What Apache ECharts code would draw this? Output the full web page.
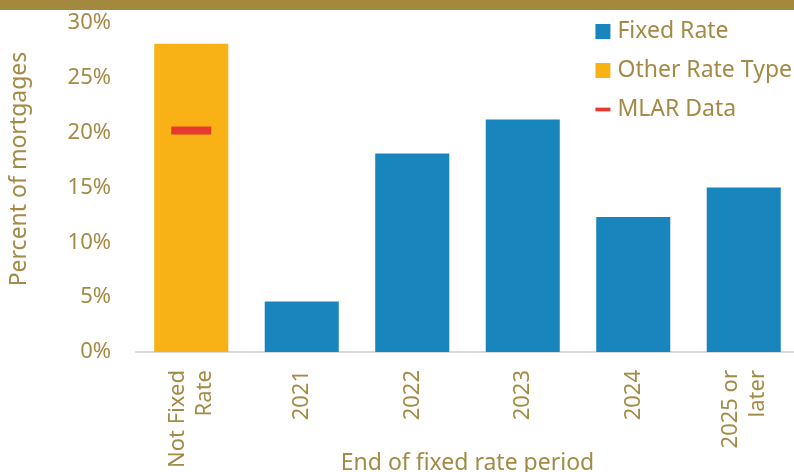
<!DOCTYPE html>
<html><head><meta charset="utf-8">
<script src="https://cdn.jsdelivr.net/npm/echarts@6/dist/echarts.min.js"></script>
<style>html,body{margin:0;padding:0;background:#fff}#c{width:794px;height:472px}</style>
</head><body><div id="c"></div>
<script>
var categories = ['Not Fixed\nRate', '2021', '2022', '2023', '2024', '2025 or\nlater'];
var fixedRate = [null, 4.6, 18.1, 21.2, 12.3, 15.0];
var otherRateType = [28.1, null, null, null, null, null];
var mlarData = [20.2, null, null, null, null, null];
var yTicks = [0, 5, 10, 15, 20, 25, 30];

var gold = '#A38A45';
var font = 'Noto Sans';
var chart = echarts.init(document.getElementById('c'), null, {renderer: 'canvas'});
chart.setOption({
  animation: false,
  textStyle: {fontFamily: font},
  graphic: [{type: 'rect', shape: {x: 0, y: 0, width: 794, height: 10}, style: {fill: '#A3893D'}, silent: true}],
  grid: {left: 136, right: -5, top: 23, bottom: 120, containLabel: false, outerBoundsMode: 'none'},
  legend: {
    right: -3, top: 15, orient: 'vertical', itemGap: 16,
    itemWidth: 15, itemHeight: 15,
    textStyle: {color: gold, fontSize: 23, fontFamily: font, padding: [0, 0, 0, 2]},
    data: [
      {name: 'Fixed Rate', icon: 'rect'},
      {name: 'Other Rate Type', icon: 'rect'},
      {name: 'MLAR Data', icon: 'path://M0,0H14V3.5H0Z'}
    ]
  },
  xAxis: {
    type: 'category', data: categories,
    axisLine: {lineStyle: {color: '#d9d9d9', width: 2}},
    axisTick: {show: false},
    axisLabel: {rotate: 90, color: gold, fontSize: 22, margin: 18, lineHeight: 27, fontFamily: font},
    name: 'End of fixed rate period', nameLocation: 'middle', nameGap: 100, nameMoveOverlap: false,
    nameTextStyle: {color: gold, fontSize: 23, fontFamily: font}
  },
  yAxis: {
    type: 'value', min: yTicks[0], max: yTicks[yTicks.length - 1], interval: 5,
    splitLine: {show: false}, axisLine: {show: false}, axisTick: {show: false},
    axisLabel: {formatter: '{value}%', color: gold, fontSize: 22, margin: 25, fontFamily: font},
    name: 'Percent of mortgages', nameLocation: 'middle', nameGap: 105, nameMoveOverlap: false,
    nameTextStyle: {color: gold, fontSize: 23, fontFamily: font, padding: [0, 0, 0, 37]}
  },
  series: [
    {name: 'Fixed Rate', type: 'bar', data: fixedRate, barWidth: '67%', barGap: '-100%', itemStyle: {color: '#1885BC'}},
    {name: 'Other Rate Type', type: 'bar', data: otherRateType, barWidth: '67%', barGap: '-100%', itemStyle: {color: '#F8B216'}},
    {name: 'MLAR Data', type: 'scatter', data: mlarData, symbol: 'rect', symbolSize: [40, 8], itemStyle: {color: '#E63A2E', opacity: 1}, z: 5}
  ]
});
</script></body></html>
